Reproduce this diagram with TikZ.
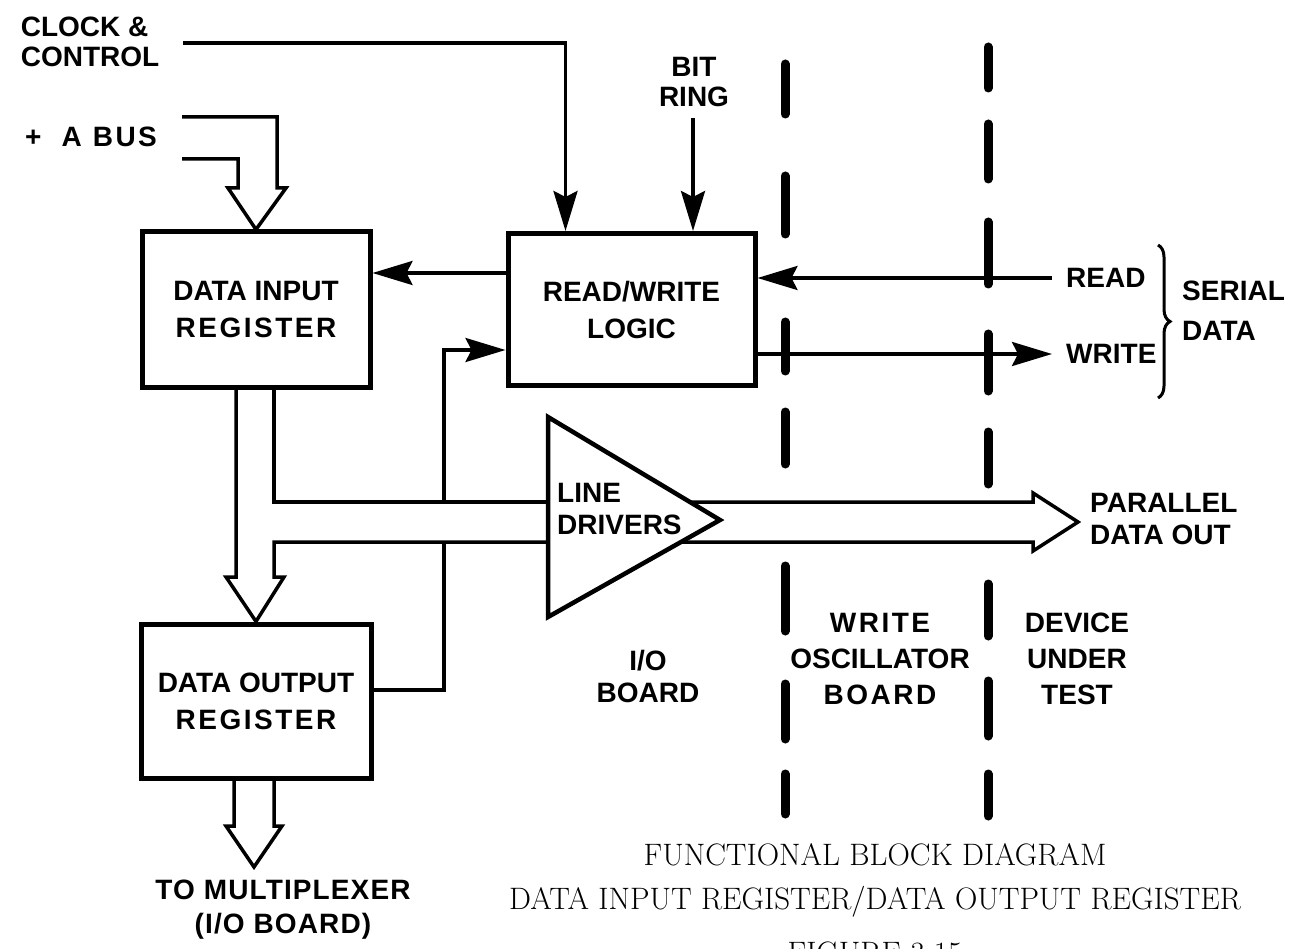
\documentclass[tikz,border=0pt]{standalone}
\usepackage{fontspec}
\newfontfamily\lblfont{Liberation Sans}
\newcommand{\spaced}[1]{{\addfontfeature{LetterSpace=9}#1}}
\usetikzlibrary{positioning, arrows.meta, decorations.pathreplacing}

\begin{document}
\begin{tikzpicture}[
    x=1pt, y=-1pt,
    >={Stealth[length=40pt, width=24pt, inset=6pt]},
    regbox/.style={
        draw,
        line width=5pt,
        align=center,
        inner sep=0pt,
        font=\lblfont\bfseries\fontsize{28}{37}\selectfont,
    },
    lbl/.style={
        align=center,
        inner sep=0pt,
        font=\lblfont\bfseries\fontsize{28}{32}\selectfont,
    },
    sig/.style={line width=3.5pt},
    bus/.style={line width=3.5pt, line join=miter},
    divider/.style={line width=9pt, line cap=round},
    caption/.style={
        align=center,
        inner sep=0pt,
        font=\fontsize{31}{44}\selectfont,
    },
]
\useasboundingbox (0,0) rectangle (1290,949);

% --- Register blocks ---
\node[regbox, minimum width=228pt, minimum height=155pt] (dir) at (256,309.5) {DATA INPUT\\\spaced{REGISTER}};
\node[regbox, minimum width=247pt, minimum height=152pt, right=133pt of dir] (rw) {READ/WRITE\\LOGIC};
\node[regbox, minimum width=230pt, minimum height=154pt, below=232pt of dir] (dor) {DATA OUTPUT\\\spaced{REGISTER}};

% --- Line drivers (triangle) ---
\coordinate (ldtop) at (548,417);
\coordinate (ldtip) at (720,520);
\coordinate (ldbot) at (548,617);
\draw[line width=4.5pt, line join=miter] (ldtop) -- (ldtip) -- (ldbot) -- cycle;
\node[lbl, align=left, anchor=west] (ldtxt) at (557,509) {LINE\\DRIVERS};

% --- Outside labels ---
\node[lbl, align=left, font=\lblfont\bfseries\fontsize{28}{30}\selectfont] (clk) at (90,42) {CLOCK \&\\CONTROL};
\node[lbl, anchor=west] (abus) at (25,137) {+\hspace{20pt}A\hspace{11pt}\spaced{BUS}};
\node[lbl, font=\lblfont\bfseries\fontsize{28}{30}\selectfont] (bit) at (694,82) {BIT\\RING};
\node[lbl, anchor=west] (rd) at (1066,278) {READ};
\node[lbl, anchor=west] (wr) at (1066,354) {WRITE};
\node[lbl, align=left, anchor=west, font=\lblfont\bfseries\fontsize{28}{40}\selectfont] (ser) at (1182,311) {SERIAL\\DATA};
\node[lbl, align=left, anchor=west] (par) at (1090,519) {PARALLEL\\DATA OUT};
\node[lbl, font=\lblfont\bfseries\fontsize{28}{34}\selectfont\addfontfeature{LetterSpace=4}] (mux) at (283,910) {TO MULTIPLEXER\\(I/O BOARD)};
\node[lbl] (io) at (648,676) {I/O\\BOARD};
\node[lbl, font=\lblfont\bfseries\fontsize{28}{36}\selectfont] (wosc) at (880,659) {\spaced{WRITE}\\OSCILLATOR\\\spaced{BOARD}};
\node[lbl, font=\lblfont\bfseries\fontsize{28}{36}\selectfont] (dut) at (1077,659) {DEVICE\\UNDER\\TEST};

% --- Control and serial lines ---
\coordinate (clkin) at (183,43);
\coordinate (bitin) at (693,118);
\draw[sig, ->] (clkin) -| ([xshift=-66pt]rw.north);
\draw[sig, ->] (bitin) -- (bitin |- rw.north);
\draw[sig, ->] (rw.west |- 0,273) -- (dir.east |- 0,273);
\draw[sig, ->] ([xshift=-14pt]rd.west) -- (rw.east |- rd.west);
\draw[sig, ->] (rw.east |- wr.west) -- ([xshift=-14pt]wr.west);
\draw[decorate, decoration={brace, amplitude=12pt}, line width=3pt] (1158,245) -- (1158,398);

% --- Feedback from output register ---
\draw[sig] (dor.east |- 0,690) -| (444,542);
\draw[sig, ->] (444,502) |- (rw.west |- 0,350);

% --- Buses ---
\draw[bus] (182,117) -- (277,117) -- (277,188) -- (286,188) -- (dir.north)
    -- (228,188) -- (238,188) -- (238,159) -- (182,159);
\draw[bus] ([xshift=-20pt]dir.south) -- (236,577) -- (226,577) -- (dor.north)
    -- (284,577) -- (274,577) -- (274,542) -- (ldbot |- 0,542);
\draw[bus] ([xshift=18pt]dir.south) -- (274,502) -- (ldtop |- 0,502);
\draw[bus] (690,502) -- (1033,502) -- (1033,493) -- (1078,522) -- (1033,551)
    -- (1033,542) -- (681,542);
\draw[bus] ([xshift=-22pt]dor.south) -- (234,826) -- (226,826) -- (254,867)
    -- (282,826) -- (274,826) -- ([xshift=18pt]dor.south);

% --- Board boundaries ---
\foreach \a/\b in {60/118, 172/238, 318/375, 408/468, 562/635, 680/743, 770/818} {
    \draw[divider] (785,\a+4) -- (785,\b-4);
}
\foreach \a/\b in {43/92, 120/183, 218/288, 330/395, 428/488, 580/640, 677/740, 770/820} {
    \draw[divider] (988,\a+4) -- (988,\b-4);
}

% --- Caption ---
\node[caption] (cap) at (875,880) {FUNCTIONAL BLOCK DIAGRAM\\DATA INPUT REGISTER/DATA OUTPUT REGISTER};
\node[caption, anchor=north] (fig) at (875,942) {FIGURE 3-15};

\end{tikzpicture}
\end{document}
